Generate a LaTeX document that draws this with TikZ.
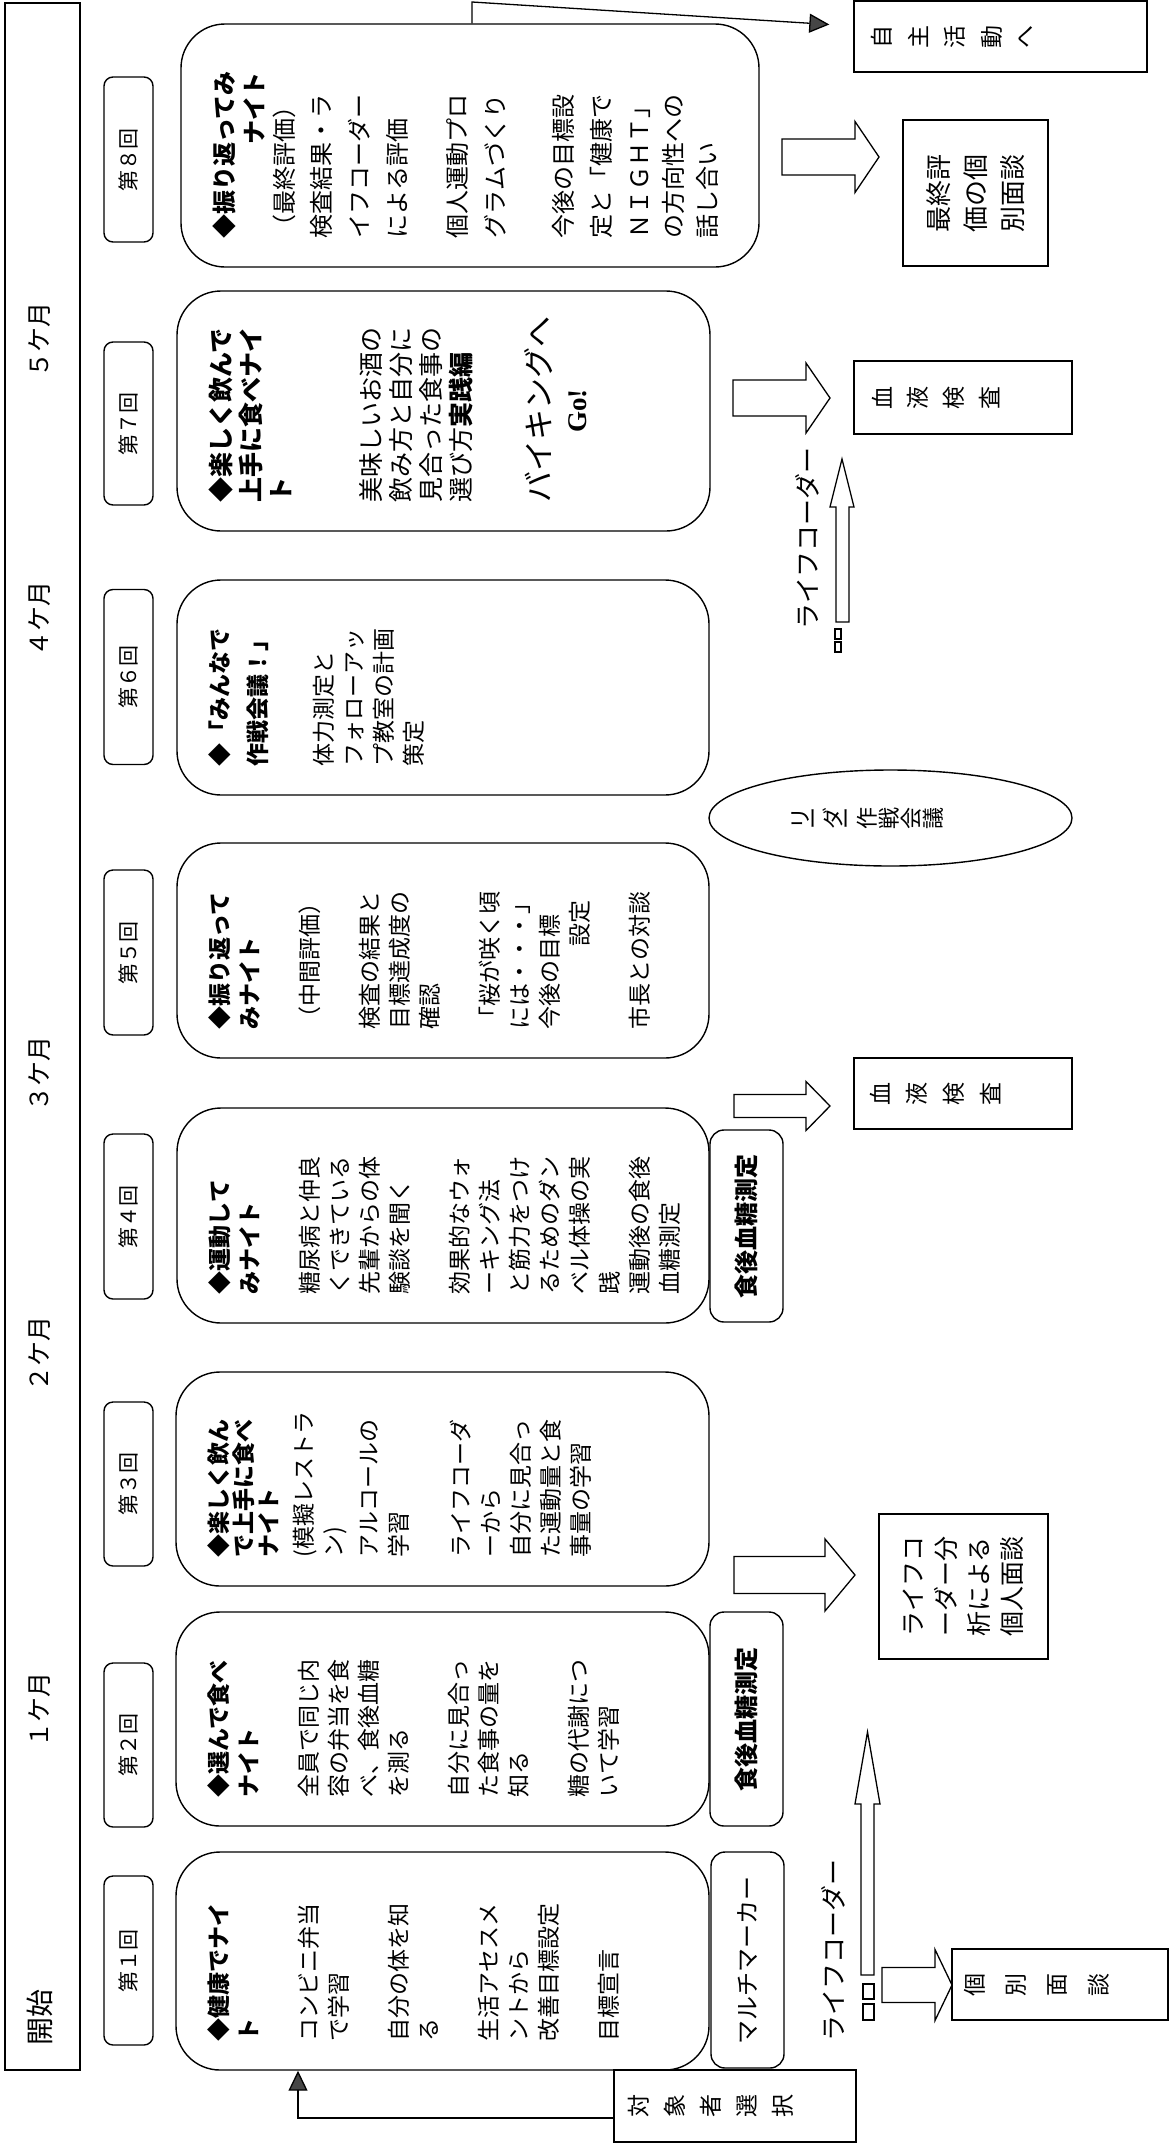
\documentclass[tikz,border=0pt]{standalone}
\usepackage{fontspec}
\usepackage{graphicx}
\setmainfont{Noto Sans CJK JP}
\newfontfamily\gofont{Liberation Serif}
\usetikzlibrary{shapes.geometric,arrows.meta,calc}

% vertical (tategaki) text: each glyph turned 90 degrees, set left to right
\newlength\vtsp
\def\vtone#1{\rotatebox{90}{#1}}
\def\vt#1{\vtfirst#1\relax}
\def\vtfirst#1{\vtone{#1}\vtx}
\def\vtx#1{\ifx#1\relax\else\hspace{\vtsp}\vtone{#1}\expandafter\vtx\fi}

\tikzset{
  every node/.style={inner sep=0pt},
  ln/.style={line width=1.4pt},
  sess/.style={draw, ln, rounded corners=44pt, rotate=90, fill=white},
  kai/.style={draw, ln, rounded corners=9pt, rotate=90, font=\fontsize{21}{21}\selectfont},
  side/.style={draw, ln, rounded corners=14pt, rotate=90, font=\fontsize{24}{24}\selectfont},
  tgt/.style={draw, ln, rectangle, fill=white},
  vfont/.style={font=\fontsize{23}{23}\selectfont},
  barrow/.style={draw, line width=1.3pt, fill=white, line join=miter},
  conn/.style={draw, line width=1.3pt},
  gtip/.style={-{Triangle[length=20pt,width=19pt,fill=gray!55!black]}},
  lbl/.style={rotate=90, font=\fontsize{25}{25}\selectfont},
}

% session box: name, cx, cy, w(portrait x), h(portrait y), font size, content
\newcommand\sessbox[7]{%
  \node[sess, minimum width=#5pt, minimum height=#4pt] (#1) at (#2,-#3)
   {\parbox[c][\dimexpr#4pt-64pt\relax][t]{\dimexpr#5pt-58pt\relax}%
     {\raggedright\fontsize{#6}{30}\selectfont #7}};}

% block arrow pointing right: x0, xbase, xtip, -yc, shaft half, head half
\newcommand\blockarrow[6]{%
  \draw[barrow] (#1,#4+#5) -- (#2,#4+#5) -- (#2,#4+#6) -- (#3,#4)
     -- (#2,#4-#6) -- (#2,#4-#5) -- (#1,#4-#5) -- cycle;}

% thin block arrow pointing up: xl, xr, headl, headr, ybottom(neg), ybase(neg), ytip(neg)
\newcommand\uparr[7]{%
  \draw[barrow] (#1,#5) -- (#1,#6) -- (#3,#6) -- ({(#3+#4)/2},#7) -- (#4,#6)
     -- (#2,#6) -- (#2,#5) -- cycle;}

\begin{document}
\begin{tikzpicture}[x=1pt,y=1pt]
\fill[white] (0,0) rectangle (1171,-2144);
\useasboundingbox (0,0) rectangle (1171,-2144);

% ---- timeline bar ----
\node[draw, ln, minimum width=75pt, minimum height=2067pt] (bar) at (42.5,-1036.5) {};
\node[lbl, font=\fontsize{28}{28}\selectfont] (t0) at (40,-2017) {開始};
\node[lbl] (t1) at (40,-1710) {１ケ月};
\node[lbl] (t2) at (40,-1354) {２ケ月};
\node[lbl] (t3) at (40,-1074) {３ケ月};
\node[lbl] (t4) at (40,-619) {４ケ月};
\node[lbl] (t5) at (40,-340) {５ケ月};

% ---- session numbers ----
\node[kai, minimum width=169pt, minimum height=49pt] (k1) at (128.5,-1960.5) {第１回};
\node[kai, minimum width=164pt, minimum height=49pt] (k2) at (128.5,-1745) {第２回};
\node[kai, minimum width=164pt, minimum height=49pt] (k3) at (128.5,-1484) {第３回};
\node[kai, minimum width=165pt, minimum height=49pt] (k4) at (128.5,-1216.5) {第４回};
\node[kai, minimum width=165pt, minimum height=49pt] (k5) at (128.5,-952.5) {第５回};
\node[kai, minimum width=175pt, minimum height=49pt] (k6) at (128.5,-677) {第６回};
\node[kai, minimum width=163pt, minimum height=49pt] (k7) at (128.5,-423.5) {第７回};
\node[kai, minimum width=165pt, minimum height=49pt] (k8) at (128.5,-159.5) {第８回};

% ---- session boxes ----
\sessbox{s1}{442.5}{1961}{533}{218}{23}{%
\textbf{◆健康でナイ}\\
\textbf{ト}\\[30pt]
コンビニ弁当\\
で学習\\[30pt]
自分の体を知\\
る\\[30pt]
生活アセスメ\\
ントから\\
改善目標設定\\[30pt]
目標宣言}

\sessbox{s2}{442.5}{1719}{533}{214}{23}{%
\textbf{◆選んで食べ}\\
\textbf{ナイト}\\[30pt]
全員で同じ内\\
容の弁当を食\\
べ、食後血糖\\
を測る\\[30pt]
自分に見合っ\\
た食事の量を\\
知る\\[30pt]
糖の代謝につ\\
いて学習}

\sessbox{s3}{442.5}{1479}{533}{214}{23}{%
\textbf{◆楽しく飲ん}\\[-5pt]
\textbf{で上手に食べ}\\[-5pt]
\textbf{ナイト}\\[5pt]
(模擬レストラ\\
ン)\\[5pt]
アルコールの\\
学習\\[32pt]
ライフコーダ\\
ーから\\
自分に見合っ\\
た運動量と食\\
事量の学習}

\sessbox{s4}{443}{1215.5}{532}{215}{23}{%
\textbf{◆運動して}\\
\textbf{みナイト}\\[30pt]
糖尿病と仲良\\
くできている\\
先輩からの体\\
験談を聞く\\[30pt]
効果的なウォ\\
ーキング法\\
と筋力をつけ\\
るためのダン\\
ベル体操の実\\
践\\
運動後の食後\\
血糖測定}

\sessbox{s5}{443}{950.5}{532}{215}{23}{%
\textbf{◆振り返って}\\
\textbf{みナイト}\\[30pt]
（中間評価）\\[30pt]
検査の結果と\\
目標達成度の\\
確認\\[30pt]
「桜が咲く頃\\
には・・・」\\
今後の目標\\
\hspace*{3.6em}設定\\[30pt]
市長との対談}

\sessbox{s6}{443}{687.5}{532}{215}{23}{%
\textbf{◆「みんなで}\\[8pt]
\textbf{作戦会議！」}\\[36pt]
体力測定と\\
フォローアッ\\
プ教室の計画\\
策定}

\sessbox{s7}{443.5}{411}{533}{240}{25}{%
\textbf{◆楽しく飲んで}\\
\textbf{上手に食べナイ}\\
\textbf{ト}\\[60pt]
美味しいお酒の\\
飲み方と自分に\\
見合った食事の\\
選び方\textbf{実践編}\\[50pt]
{\fontsize{31}{30}\selectfont バイキングへ}\\[6pt]
\makebox[\linewidth]{\fontsize{27}{30}\gofont\bfseries Go!}}

\sessbox{s8}{470}{145.5}{578}{243}{24}{%
\textbf{◆振り返ってみ}\\
\hspace*{3.9em}\textbf{ナイト}\\
（最終評価）\\[7pt]
検査結果・ラ\\[8pt]
イフコーダー\\[8pt]
による評価\\[30pt]
個人運動プロ\\[8pt]
グラムづくり\\[38pt]
今後の目標設\\[8pt]
定と「健康で\\[8pt]
ＮＩＧＨＴ」\\[4pt]
の方向性への\\[4pt]
話し合い}

% ---- side boxes ----
\node[side, minimum width=216pt, minimum height=73pt] (mm) at (747.5,-1960) {マルチマーカー};
\node[side, minimum width=214pt, minimum height=73pt] (ps1) at (746.5,-1719) {\textbf{食後血糖測定}};
\node[side, minimum width=192pt, minimum height=73pt] (ps2) at (746.5,-1226) {\textbf{食後血糖測定}};

% ---- targets ----
\node[tgt, vfont, minimum width=216pt, minimum height=71pt] (kobetsu) at (1060,-1984.5)
  {\makebox[216pt][l]{\hspace*{12pt}\setlength\vtsp{21pt}\vt{個別面談}}};
\node[tgt, rotate=90, minimum width=145pt, minimum height=169pt, align=left,
      font=\fontsize{25}{33}\selectfont] (lca) at (963.5,-1586.5)
  {ライフコ\\ーダー分\\析による\\個人面談};
\node[tgt, vfont, minimum width=218pt, minimum height=73pt] (bl1) at (963,-397.5)
  {\makebox[218pt][l]{\hspace*{18pt}\setlength\vtsp{15pt}\vt{血液検査}}};
\node[tgt, vfont, minimum width=218pt, minimum height=71pt] (bl2) at (963,-1093.5)
  {\makebox[218pt][l]{\hspace*{16pt}\setlength\vtsp{16pt}\vt{血液検査}}};
\node[tgt, rotate=90, minimum width=146pt, minimum height=145pt, align=left,
      font=\fontsize{26}{37}\selectfont] (saishu) at (975.5,-193)
  {最終評\\価の個\\別面談};
\node[tgt, vfont, minimum width=293pt, minimum height=71pt] (jishu) at (1000.5,-36.5)
  {\makebox[293pt][l]{\hspace*{17pt}\setlength\vtsp{16pt}\vt{自主活動へ}}};
\node[tgt, vfont, minimum width=242pt, minimum height=72pt] (taisho) at (735,-2106)
  {\makebox[242pt][l]{\hspace*{14pt}\setlength\vtsp{15pt}\vt{対象者選択}}};

% ---- leader meeting ----
\node[draw, ln, ellipse, minimum width=363pt, minimum height=96pt] (leader) at (890.5,-818) {};
\node[font=\fontsize{22}{22}\selectfont] (leaderlbl) at (868,-818)
  {\setlength\vtsp{2pt}\vt{リーダー作戦会議}};

% ---- block arrows ----
\blockarrow{782}{855}{879}{-157}{18}{35.5}
\blockarrow{733}{806}{830}{-398}{18}{35}
\blockarrow{734}{806}{830}{-1106}{11.5}{24.5}
\blockarrow{734}{825}{855}{-1575}{18.5}{36}
\blockarrow{882}{935}{952}{-1985}{17.5}{35.5}

% ---- life-corder arrows ----
\uparr{836}{849}{830}{854}{-622}{-507}{-459}
\draw[ln, line width=1.2pt] (835,-629) rectangle (841,-639) (835,-642) rectangle (841,-652);
\node[lbl, font=\fontsize{26}{26}\selectfont] (lc1) at (807,-538) {ライフコーダー};
\uparr{861}{874}{855}{880}{-1975}{-1804}{-1732}
\draw[ln, line width=1.2pt] (863,-1984) rectangle (874,-1999) (863,-2004) rectangle (874,-2020);
\node[lbl, font=\fontsize{26}{26}\selectfont] (lc2) at (833,-1950) {ライフコーダー};

% ---- connectors ----
\coordinate (c1) at (298,-2118);
\draw[conn, gtip] (taisho.west |- c1) -- (c1) -- (c1 |- s1.west);
\coordinate (c2) at (472,-2);
\draw[conn, gtip] (c2 |- s8.east) -- (c2) -- ($(jishu.west)+(-24,12)$);
\end{tikzpicture}
\end{document}
